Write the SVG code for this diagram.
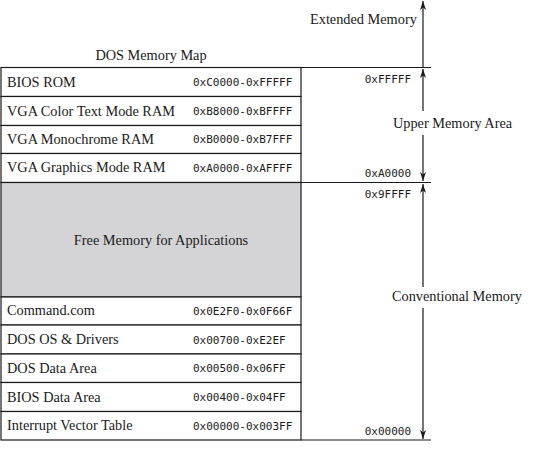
<svg xmlns="http://www.w3.org/2000/svg" width="558" height="457" viewBox="0 0 558 457">
<style>
.s{font-family:"Liberation Serif","Times New Roman",serif;font-size:14.3px;fill:#1a1a1a}
.m{font-family:"DejaVu Sans Mono","Liberation Mono",monospace;font-size:11px;fill:#1a1a1a}
.ln{stroke:#1a1a1a;stroke-width:1.2;fill:none}
.cell{fill:#fff;stroke:#1a1a1a;stroke-width:1.2}
.free{fill:#d4d4d6;stroke:#1a1a1a;stroke-width:1.2}
</style>
<defs>
<marker id="ah" markerUnits="userSpaceOnUse" markerWidth="12" markerHeight="10" viewBox="-10 -5 12 10" refX="0" refY="0" orient="auto">
<path d="M0,0 L-9,-3 L-6.5,0 L-9,3 Z" fill="#1a1a1a"/>
</marker>
</defs>
<rect width="558" height="457" fill="#fff"/>
<text class="s" x="310" y="24">Extended Memory</text>
<text class="s" x="151" y="60" text-anchor="middle">DOS Memory Map</text>

<g id="bios-rom"><rect class="cell" x="1" y="67.5" width="300" height="29"/><text class="s" x="7" y="87">BIOS ROM</text><text class="m" x="193" y="86">0xC0000-0xFFFFF</text></g>
<g id="vga-color"><rect class="cell" x="1" y="96.5" width="300" height="29"/><text class="s" x="7" y="115.5">VGA Color Text Mode RAM</text><text class="m" x="193" y="115">0xB8000-0xBFFFF</text></g>
<g id="vga-mono"><rect class="cell" x="1" y="125.5" width="300" height="28"/><text class="s" x="7" y="143.5">VGA Monochrome RAM</text><text class="m" x="193" y="143">0xB0000-0xB7FFF</text></g>
<g id="vga-graphics"><rect class="cell" x="1" y="153.5" width="300" height="29"/><text class="s" x="7" y="172">VGA Graphics Mode RAM</text><text class="m" x="193" y="171.5">0xA0000-0xAFFFF</text></g>
<g id="free-memory"><rect class="free" x="1" y="182.5" width="300" height="114.5"/><text class="s" x="161" y="245" text-anchor="middle">Free Memory for Applications</text></g>
<g id="command-com"><rect class="cell" x="1" y="297" width="300" height="28"/><text class="s" x="7" y="315">Command.com</text><text class="m" x="193" y="314.5">0x0E2F0-0x0F66F</text></g>
<g id="dos-os"><rect class="cell" x="1" y="325" width="300" height="29"/><text class="s" x="7" y="344">DOS OS &amp; Drivers</text><text class="m" x="193" y="343.5">0x00700-0xE2EF</text></g>
<g id="dos-data"><rect class="cell" x="1" y="354" width="300" height="28.5"/><text class="s" x="7" y="372.5">DOS Data Area</text><text class="m" x="193" y="372">0x00500-0x06FF</text></g>
<g id="bios-data"><rect class="cell" x="1" y="382.5" width="300" height="29"/><text class="s" x="7" y="401.5">BIOS Data Area</text><text class="m" x="193" y="401">0x00400-0x04FF</text></g>
<g id="ivt"><rect class="cell" x="1" y="411.5" width="300" height="28.5"/><text class="s" x="7" y="430">Interrupt Vector Table</text><text class="m" x="193" y="429.5">0x00000-0x003FF</text></g>

<g id="addresses">
<text class="m" x="411" y="83" text-anchor="end">0xFFFFF</text>
<text class="m" x="411" y="177" text-anchor="end">0xA0000</text>
<text class="m" x="411" y="198" text-anchor="end">0x9FFFF</text>
<text class="m" x="411" y="435" text-anchor="end">0x00000</text>
</g>
<g id="region-labels">
<text class="s" x="393" y="128">Upper Memory Area</text>
<text class="s" x="392" y="301">Conventional Memory</text>
</g>

<g id="connectors">
<line class="ln" x1="301" y1="67.5" x2="431" y2="67.5"/>
<line class="ln" x1="301" y1="182.5" x2="431" y2="182.5"/>
<line class="ln" x1="301" y1="440" x2="431" y2="440"/>
<line class="ln" x1="423" y1="67.5" x2="423" y2="1" marker-end="url(#ah)"/>
<line class="ln" x1="423" y1="111" x2="423" y2="69" marker-end="url(#ah)"/>
<line class="ln" x1="423" y1="135" x2="423" y2="181" marker-end="url(#ah)"/>
<line class="ln" x1="423" y1="287" x2="423" y2="184" marker-end="url(#ah)"/>
<line class="ln" x1="423" y1="308" x2="423" y2="439" marker-end="url(#ah)"/>
</g>
</svg>
